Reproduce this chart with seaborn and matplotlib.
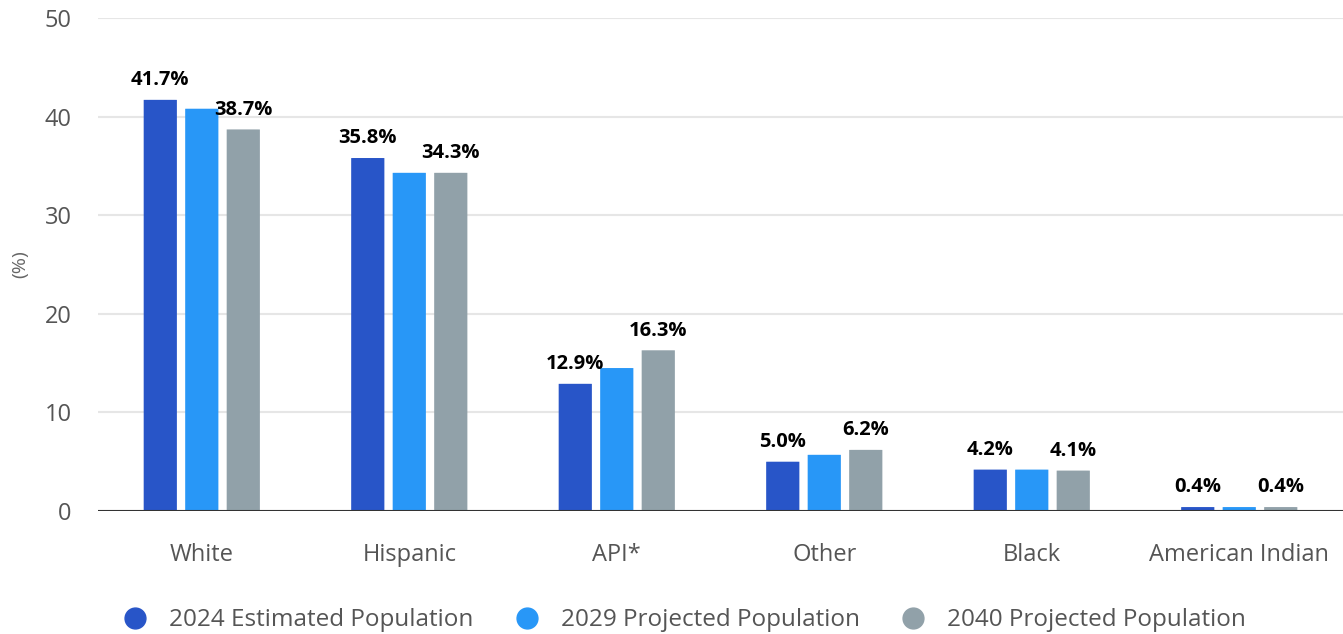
import matplotlib
matplotlib.use("Agg")
import matplotlib.pyplot as plt
from matplotlib.lines import Line2D
from matplotlib.patches import FancyBboxPatch
import pandas as pd
import seaborn as sns

# data
groups = ['White', 'Hispanic', 'API*', 'Other', 'Black', 'American Indian']
series = ['2024 Estimated Population', '2029 Projected Population', '2040 Projected Population']
pop_2024 = [41.7, 35.8, 12.9, 5.0, 4.2, 0.4]
pop_2029 = [40.8, 34.3, 14.5, 5.7, 4.2, 0.4]
pop_2040 = [38.7, 34.3, 16.3, 6.2, 4.1, 0.4]
pal = ['#2855c8', '#2897f7', '#91a1a9']

df = pd.DataFrame({'group': groups * 3,
                   'series': [s for s in series for _ in groups],
                   'value': pop_2024 + pop_2029 + pop_2040})

sns.set_style('white')
plt.rcParams['font.family'] = ['Open Sans', 'DejaVu Sans']

fig = plt.figure(figsize=(13.43, 6.34), dpi=100)
ax = fig.add_axes([0.073, 0.194, 0.927, 0.7776])

sns.barplot(data=df, x='group', y='value', hue='series', order=groups, hue_order=series,
            palette=pal, width=0.6, gap=0.2, saturation=1, legend=False, ax=ax, zorder=3)

# rounded tops
for cont, col in zip(ax.containers, pal):
    for p in cont.patches:
        x, y, w, h = p.get_x(), p.get_y(), p.get_width(), p.get_height()
        p.set_visible(False)
        rb = FancyBboxPatch((x, y), w, h, boxstyle='round,pad=0,rounding_size=0.03',
                            mutation_aspect=0.17,
                            facecolor=col, edgecolor='none', zorder=3)
        ax.add_patch(rb)

vals = [pop_2024, pop_2029, pop_2040]
for i in [0, 2]:
    ax.bar_label(ax.containers[i], labels=[f'{v:.1f}%' for v in vals[i]],
                 padding=7, fontsize=14.5, fontweight='bold', color='black', zorder=5)

ax.set_ylim(0, 50)
ax.set_xlim(-0.5, 5.5)
ax.set_yticks([0, 10, 20, 30, 40, 50])
ax.yaxis.grid(True, color='#e6e6e6', linewidth=1.5, zorder=0)
ax.axhline(0, color='#333333', linewidth=1.5, zorder=4)
sns.despine(ax=ax, left=True, bottom=True)
ax.tick_params(axis='both', length=0, labelsize=17, labelcolor='#555555')
ax.tick_params(axis='y', pad=19)
ax.tick_params(axis='x', pad=23)
ax.set_xlabel('')
ax.set_ylabel('(%)', fontsize=14, color='#666666')
ax.yaxis.set_label_coords(-0.055, 0.5)

handles = [Line2D([0], [0], marker='o', linestyle='', markersize=15, markerfacecolor=c,
                  markeredgecolor=c) for c in pal]
fig.legend(handles, series, loc='center', bbox_to_anchor=(0.505, 0.022), ncol=3, frameon=False,
           fontsize=17.5, labelcolor='#555555', handletextpad=0.4, columnspacing=1.2)

fig.savefig('out.png', dpi=100)
